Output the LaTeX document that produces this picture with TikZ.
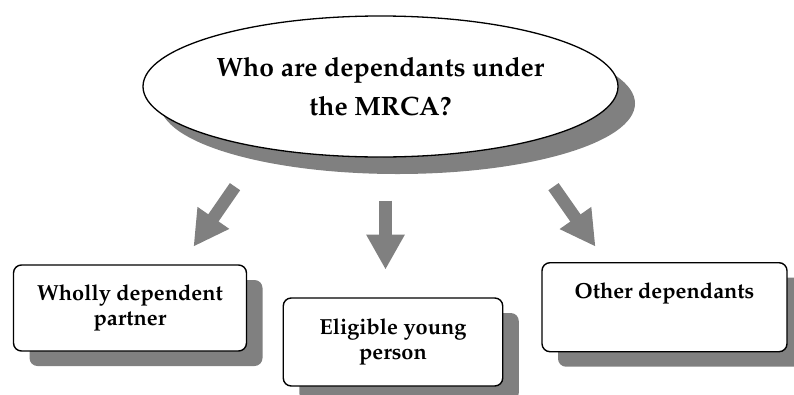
\documentclass[tikz,border=0pt]{standalone}
\usepackage[T1]{fontenc}
\usepackage{mathpazo}
\usepackage{tikz}
\usetikzlibrary{shapes,arrows.meta,shadows}
\definecolor{shadowgray}{RGB}{128,128,128}
\tikzstyle{question} = [ellipse, draw=black, line width=1.3pt, fill=white, inner sep=0pt, minimum width=475pt, minimum height=141pt, align=center, font=\fontsize{26.5}{39}\selectfont\bfseries, drop shadow={shadow xshift=17pt, shadow yshift=-17pt, fill=shadowgray, opacity=1}]
\tikzstyle{answer} = [rectangle, rounded corners=8pt, draw=black, line width=1.4pt, fill=white, align=center, font=\fontsize{21.8}{25.5}\selectfont\bfseries, drop shadow={shadow xshift=16pt, shadow yshift=-15pt, fill=shadowgray, opacity=1}]
\tikzstyle{bigArrow} = [draw=shadowgray, line width=12.5pt, -{Triangle[width=36pt, length=35pt]}]

\begin{document}
\begin{tikzpicture}[x=1pt, y=-1pt]
\useasboundingbox (0,0) rectangle (794,394);
\node (question) [question] at (380.5,86.5) {Who are dependants under\\the MRCA?};
\path (question.center)+(-250.5, 221.5) node (partner) [answer, minimum width=233pt, minimum height=86pt] {Wholly dependent\\partner};
\path (question.center)+(12.5, 255.5) node (young) [answer, minimum width=219.5pt, minimum height=88pt] {Eligible young\\person};
\path (question.center)+(284, 175.5) node (other) [answer, anchor=north, minimum width=245pt, inner ysep=0pt, text height=36pt, text depth=53pt] {Other dependants};
\path (question.south)+(-145.5, 29) coordinate (leftTail);
\path (question.south)+(-187, 89) coordinate (leftTip);
\path (question.south)+(5, 43) coordinate (midTail);
\path (question.south)+(5, 112) coordinate (midTip);
\path (question.south)+(173, 29) coordinate (rightTail);
\path (question.south)+(215, 89) coordinate (rightTip);
\draw[bigArrow] (leftTail) -- (leftTip);
\draw[bigArrow] (midTail) -- (midTip);
\draw[bigArrow] (rightTail) -- (rightTip);
\end{tikzpicture}
\end{document}
